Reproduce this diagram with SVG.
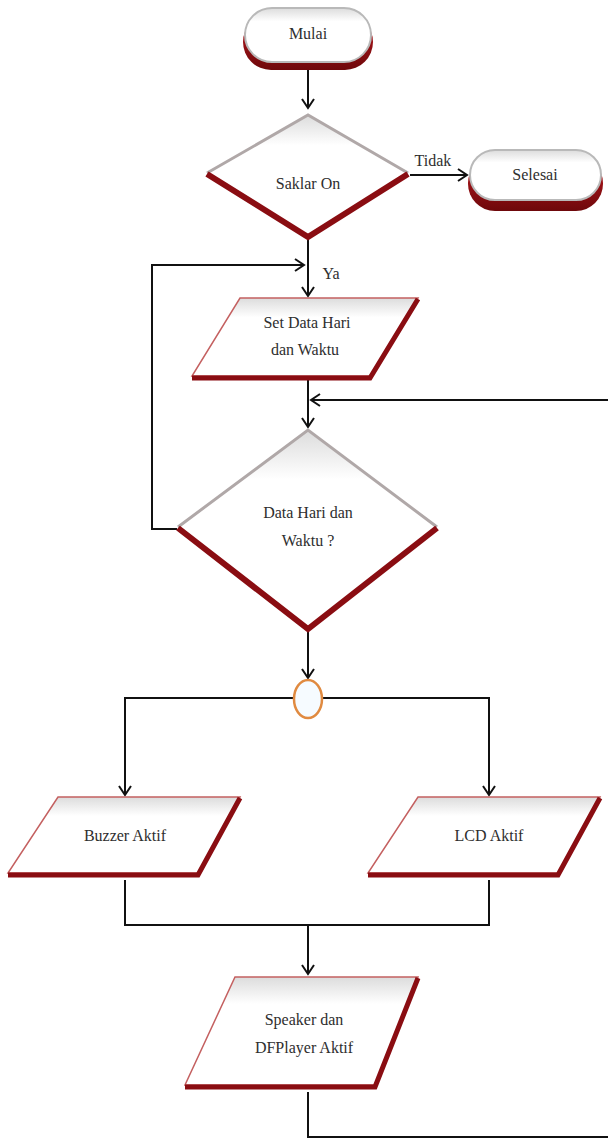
<svg xmlns="http://www.w3.org/2000/svg" width="608" height="1139" viewBox="0 0 608 1139">
<style>
text{font-family:'Liberation Serif','Times New Roman','DejaVu Serif',serif;font-size:16px;fill:#2e2e2e;text-anchor:middle}
.c{fill:none;stroke:#111;stroke-width:2}
.body{fill:url(#g);stroke:#b9b9b9;stroke-width:2}
.pg{fill:url(#g);stroke:#c46060;stroke-width:1.5}
.pgb{fill:none;stroke:#8a0d12;stroke-width:5;stroke-linejoin:miter}
.dtop{fill:none;stroke:#b0a8a8;stroke-width:3}
.dbot{fill:none;stroke:#8a0d12;stroke-width:6;stroke-linejoin:miter}
</style>
<defs>
<linearGradient id="g" x1="0" y1="0" x2="0" y2="1">
<stop offset="0" stop-color="#dcdcdc"/>
<stop offset="0.25" stop-color="#ffffff"/>
<stop offset="1" stop-color="#ffffff"/>
</linearGradient>
<linearGradient id="r" x1="0" y1="0" x2="0" y2="1">
<stop offset="0" stop-color="#c01a1f"/>
<stop offset="1" stop-color="#6e080b"/>
</linearGradient>
<marker id="a" markerUnits="userSpaceOnUse" markerWidth="14" markerHeight="14" refX="11" refY="7" orient="auto">
<path d="M2,1 L11,7 L2,13" fill="none" stroke="#111" stroke-width="2"/>
</marker>
</defs>

<g id="connectors">
<path class="c" d="M308,62 V108" marker-end="url(#a)"/>
<path class="c" d="M410,175 H467" marker-end="url(#a)"/>
<path class="c" d="M308,238 V296" marker-end="url(#a)"/>
<path class="c" d="M177,529 H152 V265 H304" marker-end="url(#a)"/>
<path class="c" d="M308,378 V427" marker-end="url(#a)"/>
<path class="c" d="M308,1092 V1137 H612 V400 H311" marker-end="url(#a)"/>
<path class="c" d="M308,632 V678" marker-end="url(#a)"/>
<path class="c" d="M294,698 H125 V795" marker-end="url(#a)"/>
<path class="c" d="M322,698 H489 V795" marker-end="url(#a)"/>
<path class="c" d="M125,880 V925 H489 V880"/>
<path class="c" d="M308,925 V974" marker-end="url(#a)"/>
</g>

<g id="mulai">
<rect x="243" y="14" width="130" height="56" rx="28" fill="url(#r)"/>
<rect x="245" y="8" width="126" height="54" rx="27" class="body"/>
<text x="308" y="39" font-family="Liberation Serif, serif">Mulai</text>
</g>

<g id="saklar">
<polygon points="308,115 408,173 308,236 207,173" fill="url(#g)"/>
<polyline class="dtop" points="207,173 308,115 408,173"/>
<polyline class="dbot" points="207,174 308,237 408,174"/>
<text x="308" y="189" font-family="Liberation Serif, serif">Saklar On</text>
</g>

<text x="433" y="166" font-family="Liberation Serif, serif">Tidak</text>
<text x="331" y="279" font-family="Liberation Serif, serif">Ya</text>

<g id="selesai">
<rect x="468" y="156" width="135" height="55" rx="27" fill="url(#r)"/>
<rect x="470" y="150" width="131" height="50" rx="25" class="body"/>
<text x="535" y="180" font-family="Liberation Serif, serif">Selesai</text>
</g>

<g id="setdata">
<polygon class="pg" points="240,298 418,298 370,376 192,376"/>
<polyline class="pgb" points="192,378 370,378 418,299"/>
<text x="307" y="328" font-family="Liberation Serif, serif">Set Data Hari</text>
<text x="305" y="355" font-family="Liberation Serif, serif">dan Waktu</text>
</g>

<g id="datahari">
<polygon points="308,430 437,527 308,628 178,527" fill="url(#g)"/>
<polyline class="dtop" points="178,527 308,430 437,527"/>
<polyline class="dbot" points="178,528 308,629 437,528"/>
<text x="308" y="518" font-family="Liberation Serif, serif">Data Hari dan</text>
<text x="308" y="546" font-family="Liberation Serif, serif">Waktu ?</text>
</g>

<g id="junction">
<ellipse cx="308" cy="699" rx="14" ry="19" fill="#f6fbff" stroke="#e08a40" stroke-width="2.5"/>
</g>

<g id="buzzer">
<polygon class="pg" points="58,797 240,797 198,873 8,873"/>
<polyline class="pgb" points="8,875 198,875 240,798"/>
<text x="125" y="841" font-family="Liberation Serif, serif">Buzzer Aktif</text>
</g>

<g id="lcd">
<polygon class="pg" points="418,797 600,797 558,873 368,873"/>
<polyline class="pgb" points="368,875 558,875 600,798"/>
<text x="489" y="841" font-family="Liberation Serif, serif">LCD Aktif</text>
</g>

<g id="speaker">
<polygon class="pg" points="235,977 418,977 375,1085 185,1085"/>
<polyline class="pgb" points="185,1087 375,1087 418,978"/>
<text x="304" y="1025" font-family="Liberation Serif, serif">Speaker dan</text>
<text x="304" y="1053" font-family="Liberation Serif, serif">DFPlayer Aktif</text>
</g>
</svg>
